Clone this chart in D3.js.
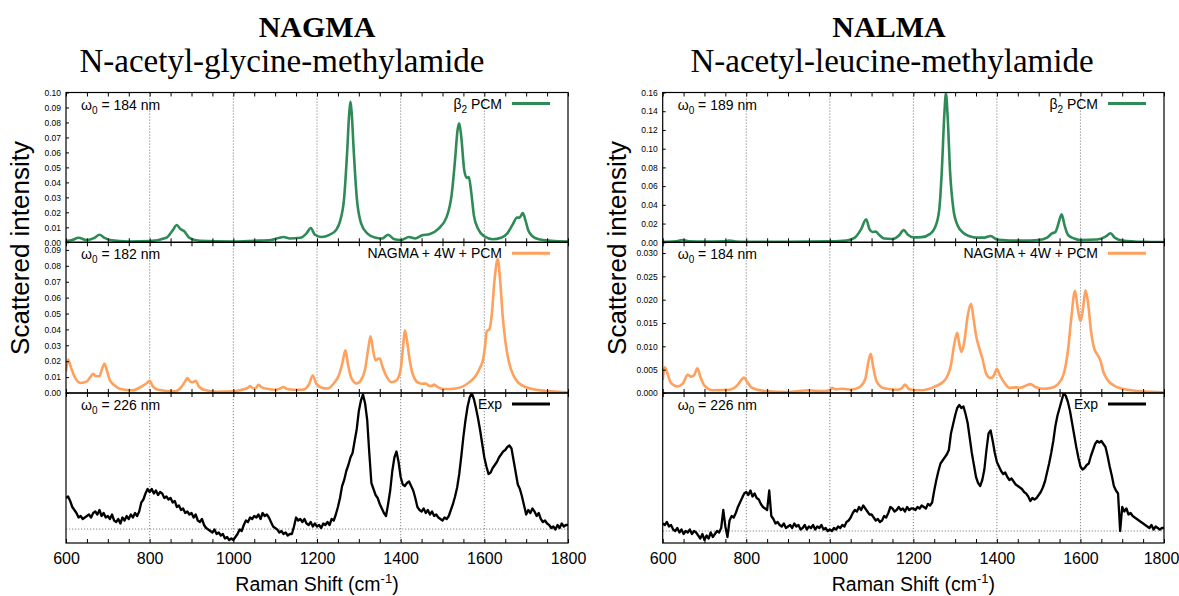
<!DOCTYPE html>
<html>
<head>
<meta charset="utf-8">
<script src="https://cdn.jsdelivr.net/npm/d3@7"></script>
<style>
  body { margin: 0; background: #fff; }
  text { font-family: "Liberation Sans", Arial, sans-serif; fill: #000; }
  .serif { font-family: "Liberation Serif", "DejaVu Serif", serif; }
</style>
</head>
<body>
<script>
// ---- data ----
const titles = ['NAGMA', 'NALMA'];
const subtitles = ['N-acetyl-glycine-methylamide', 'N-acetyl-leucine-methylamide'];
const legendNames = ['β2 PCM', 'NAGMA + 4W + PCM', 'Exp'];
const lambdas = [['184', '182', '226'], ['189', '184', '226']];
const xTicks = [600, 800, 1000, 1200, 1400, 1600, 1800];

// NAGMA, beta2 PCM (scattered intensity)
const nagmaB2 = [[600,0.0008],[615,0.0015],[630,0.003],[650,0.0015],[668,0.003],[680,0.005],[692,0.003],[705,0.0015],[750,0.0005],[800,0.0008],[840,0.003],[855,0.008],[865,0.0115],[873,0.009],[882,0.0075],[895,0.003],[920,0.001],[1000,0.0005],[1050,0.001],[1090,0.0015],[1110,0.003],[1120,0.0035],[1135,0.0025],[1160,0.003],[1175,0.006],[1185,0.0095],[1195,0.005],[1210,0.0035],[1230,0.005],[1245,0.008],[1255,0.014],[1265,0.03],[1272,0.06],[1277,0.086],[1280,0.094],[1283,0.086],[1288,0.06],[1295,0.03],[1305,0.013],[1320,0.006],[1340,0.003],[1355,0.0025],[1370,0.005],[1385,0.002],[1400,0.0015],[1420,0.0035],[1435,0.0025],[1450,0.0045],[1470,0.0055],[1490,0.009],[1510,0.017],[1522,0.032],[1530,0.055],[1536,0.075],[1540,0.0795],[1545,0.07],[1552,0.048],[1558,0.043],[1563,0.0435],[1568,0.035],[1575,0.018],[1585,0.009],[1600,0.004],[1620,0.002],[1640,0.003],[1655,0.006],[1668,0.012],[1678,0.0165],[1684,0.0165],[1692,0.0195],[1698,0.015],[1705,0.008],[1715,0.004],[1730,0.002],[1760,0.001],[1800,0.0005]];

// NAGMA + 4W + PCM
const nagmaW4 = [[600,0.0136],[605,0.021],[612,0.016],[620,0.0105],[635,0.0063],[650,0.0073],[658,0.01],[665,0.012],[672,0.0105],[680,0.0105],[686,0.015],[692,0.0184],[698,0.014],[705,0.008],[715,0.005],[730,0.0025],[760,0.0017],[780,0.004],[792,0.006],[800,0.0077],[808,0.004],[820,0.002],[860,0.001],[875,0.0035],[884,0.007],[890,0.0094],[897,0.0072],[903,0.0068],[910,0.0077],[918,0.004],[930,0.002],[960,0.0008],[1000,0.001],[1020,0.002],[1033,0.003],[1040,0.0042],[1048,0.0028],[1055,0.0035],[1060,0.0052],[1068,0.0035],[1080,0.0027],[1100,0.002],[1113,0.003],[1120,0.0038],[1128,0.0025],[1145,0.002],[1165,0.002],[1180,0.005],[1190,0.011],[1198,0.006],[1210,0.0035],[1225,0.0028],[1240,0.006],[1252,0.011],[1260,0.018],[1268,0.0268],[1274,0.018],[1282,0.0095],[1295,0.006],[1305,0.008],[1315,0.015],[1322,0.027],[1328,0.0356],[1334,0.027],[1340,0.0205],[1346,0.0215],[1350,0.0217],[1356,0.017],[1365,0.011],[1378,0.0068],[1390,0.008],[1400,0.015],[1406,0.03],[1410,0.0394],[1415,0.033],[1422,0.02],[1430,0.011],[1442,0.0065],[1452,0.0058],[1460,0.006],[1468,0.0045],[1475,0.0045],[1480,0.0053],[1488,0.0038],[1500,0.0025],[1520,0.0025],[1545,0.0037],[1565,0.007],[1580,0.011],[1590,0.016],[1597,0.021],[1602,0.03],[1606,0.039],[1612,0.04],[1618,0.05],[1624,0.07],[1632,0.0842],[1638,0.07],[1644,0.048],[1650,0.033],[1658,0.0205],[1668,0.012],[1680,0.0068],[1700,0.0036],[1730,0.0018],[1760,0.001],[1800,0.0003]];

// NALMA, beta2 PCM
const nalmaB2 = [[600,0.0005],[630,0.001],[648,0.0025],[665,0.001],[700,0.0008],[745,0.001],[760,0.0018],[775,0.0008],[800,0.0005],[900,0.0005],[1000,0.001],[1040,0.002],[1060,0.005],[1075,0.014],[1087,0.0246],[1095,0.014],[1102,0.011],[1110,0.0114],[1118,0.008],[1130,0.004],[1150,0.0035],[1165,0.007],[1177,0.013],[1187,0.008],[1200,0.0053],[1220,0.0055],[1240,0.009],[1252,0.016],[1262,0.035],[1268,0.075],[1274,0.135],[1278,0.159],[1282,0.135],[1288,0.075],[1296,0.035],[1306,0.018],[1320,0.01],[1335,0.0065],[1350,0.005],[1370,0.005],[1385,0.0068],[1400,0.003],[1430,0.002],[1460,0.0018],[1500,0.0025],[1520,0.005],[1532,0.0095],[1540,0.011],[1546,0.018],[1555,0.03],[1562,0.018],[1570,0.008],[1585,0.004],[1600,0.0025],[1640,0.003],[1660,0.006],[1672,0.0096],[1682,0.005],[1700,0.002],[1750,0.0005],[1800,0.0002]];

// NALMA + 4W + PCM
const nalmaW4 = [[600,0.0028],[605,0.0055],[612,0.004],[620,0.0021],[635,0.0014],[648,0.002],[660,0.0039],[668,0.0035],[675,0.0038],[683,0.0053],[690,0.0035],[700,0.0016],[720,0.0006],[760,0.0007],[780,0.0018],[790,0.003],[795,0.0033],[802,0.0024],[812,0.0012],[840,0.0005],[900,0.0002],[950,0.0006],[980,0.0004],[1000,0.0006],[1005,0.0011],[1015,0.0008],[1030,0.0009],[1050,0.0007],[1070,0.0012],[1085,0.003],[1092,0.0065],[1098,0.0084],[1104,0.0055],[1112,0.0025],[1130,0.001],[1160,0.0007],[1172,0.001],[1180,0.0018],[1190,0.0008],[1220,0.0006],[1250,0.0013],[1275,0.0027],[1290,0.006],[1298,0.0105],[1305,0.0129],[1310,0.0105],[1315,0.0088],[1322,0.011],[1330,0.0165],[1338,0.0191],[1344,0.016],[1350,0.0124],[1358,0.0095],[1365,0.0075],[1375,0.004],[1385,0.0032],[1393,0.0038],[1400,0.0052],[1407,0.0038],[1418,0.0022],[1430,0.0011],[1445,0.0012],[1455,0.0011],[1470,0.0016],[1480,0.0019],[1492,0.0013],[1510,0.0009],[1530,0.0011],[1545,0.0018],[1560,0.0041],[1570,0.009],[1578,0.016],[1587,0.0219],[1593,0.0185],[1600,0.0154],[1606,0.018],[1612,0.022],[1618,0.0195],[1625,0.0135],[1633,0.0095],[1640,0.0083],[1647,0.0072],[1655,0.0045],[1665,0.0028],[1680,0.0016],[1700,0.0009],[1740,0.0004],[1800,0.0001]];

// experimental spectra, sampled every 5 cm-1 from 600 to 1800 (arbitrary units)
const expShift = d3.range(600, 1801, 5);
const nagmaExp = [
  .30,.31,.28,.24,.22,.20,.17,.18,.16,.17,
  .18,.19,.17,.20,.21,.19,.22,.18,.20,.17,
  .18,.16,.19,.15,.14,.16,.13,.17,.15,.18,
  .16,.19,.17,.20,.18,.21,.27,.29,.33,.36,
  .34,.36,.33,.35,.32,.34,.33,.30,.31,.29,
  .30,.27,.28,.24,.25,.22,.23,.20,.21,.19,
  .20,.17,.19,.15,.14,.16,.12,.10,.09,.08,
  .07,.09,.06,.07,.05,.06,.03,.04,.02,.03,
  .02,.04,.06,.09,.08,.12,.15,.14,.17,.16,
  .18,.17,.19,.16,.20,.18,.19,.17,.14,.11,
  .10,.09,.07,.08,.06,.07,.05,.06,.06,.11,
  .17,.15,.16,.14,.16,.13,.12,.14,.11,.13,
  .11,.12,.10,.13,.12,.14,.12,.16,.15,.19,
  .24,.30,.38,.42,.48,.52,.57,.60,.68,.76,
  .88,.95,.99,.93,.82,.60,.40,.36,.32,.30,
  .26,.23,.20,.18,.26,.35,.48,.57,.61,.54,
  .44,.39,.38,.40,.41,.38,.35,.30,.24,.22,
  .21,.23,.20,.22,.19,.21,.18,.19,.17,.16,
  .15,.17,.16,.18,.22,.26,.31,.37,.46,.58,
  .71,.82,.91,.97,1.0,.96,.90,.83,.75,.66,
  .57,.51,.46,.47,.50,.52,.54,.57,.59,.61,
  .62,.64,.65,.63,.55,.47,.39,.36,.31,.25,
  .19,.22,.20,.23,.21,.18,.20,.16,.14,.15,
  .13,.12,.10,.11,.09,.12,.10,.13,.11,.12,
  .12];
const nalmaExp = [
  .13,.12,.14,.11,.12,.09,.08,.10,.07,.09,
  .06,.08,.07,.09,.06,.08,.07,.05,.03,.06,
  .02,.05,.03,.07,.04,.06,.08,.07,.10,.22,
  .11,.04,.15,.18,.17,.20,.24,.27,.30,.33,
  .34,.32,.35,.31,.33,.30,.29,.26,.24,.23,
  .22,.35,.18,.16,.13,.14,.12,.11,.13,.10,
  .11,.12,.10,.13,.11,.12,.09,.10,.12,.09,
  .11,.10,.12,.09,.11,.10,.12,.09,.10,.08,
  .09,.08,.10,.09,.11,.10,.12,.11,.14,.15,
  .17,.20,.22,.21,.24,.22,.25,.23,.21,.19,
  .19,.17,.15,.16,.14,.15,.18,.17,.20,.24,
  .23,.21,.22,.24,.22,.23,.21,.24,.22,.23,
  .23,.22,.24,.23,.25,.24,.23,.26,.25,.27,
  .35,.42,.48,.53,.55,.57,.59,.62,.73,.79,
  .85,.90,.92,.90,.91,.86,.80,.70,.60,.52,
  .44,.40,.38,.42,.49,.62,.73,.75,.68,.60,
  .54,.51,.48,.46,.47,.44,.42,.43,.41,.39,
  .38,.37,.36,.34,.33,.31,.28,.30,.29,.30,
  .32,.34,.37,.41,.47,.53,.60,.68,.78,.85,
  .90,.95,1.0,.98,.94,.88,.80,.72,.64,.57,
  .51,.49,.50,.52,.53,.58,.62,.66,.68,.67,
  .68,.66,.64,.58,.51,.45,.38,.35,.33,.08,
  .24,.21,.23,.19,.20,.18,.17,.16,.15,.14,
  .13,.12,.11,.10,.12,.09,.11,.10,.09,.10,
  .10];
const expBaseline = [0.093, 0.08];

// y ticks for the computed panels
const nagmaTopTicks = d3.range(0, 0.1001, 0.01);
const nagmaMidTicks = d3.range(0, 0.0901, 0.01);
const nalmaTopTicks = d3.range(0, 0.1601, 0.02);
const nalmaMidTicks = d3.range(0, 0.0301, 0.005);

// ---- layout ----
const width = 1179, height = 596;
const panelEdges = [92.5, 242.3, 393, 543];
const green = '#2e8b57', orange = '#ffa05c';

const columns = [
  { left: 66, right: 568, titleX: 317, subX: 282, title: titles[0], sub: subtitles[0], lam: lambdas[0], base: expBaseline[0],
    panels: [
      { data: nagmaB2, color: green, domain: [0, 0.1], ticks: nagmaTopTicks, fmt: '.2f' },
      { data: nagmaW4, color: orange, domain: [0, 0.0948], ticks: nagmaMidTicks, fmt: '.2f' },
      { data: expShift.map((s, i) => [s, nagmaExp[i]]), color: '#000', domain: [0, 1.0], ticks: [], exp: true }
    ] },
  { left: 662.7, right: 1164, titleX: 889, subX: 892, title: titles[1], sub: subtitles[1], lam: lambdas[1], base: expBaseline[1],
    panels: [
      { data: nalmaB2, color: green, domain: [0, 0.16], ticks: nalmaTopTicks, fmt: '.2f' },
      { data: nalmaW4, color: orange, domain: [0, 0.0323], ticks: nalmaMidTicks, fmt: '.3f' },
      { data: expShift.map((s, i) => [s, nalmaExp[i]]), color: '#000', domain: [0, 1.0], ticks: [], exp: true }
    ] }
];

const svg = d3.select('body').append('svg')
  .attr('width', width)
  .attr('height', height);

columns.forEach((col, ci) => {
  const x = d3.scaleLinear().domain([600, 1800]).range([col.left, col.right]);
  const cx = (col.left + col.right) / 2;
  const g = svg.append('g');

  g.append('text').attr('class', 'serif')
    .attr('x', col.titleX).attr('y', 37)
    .attr('text-anchor', 'middle')
    .style('font-size', '30px').style('font-weight', 'bold')
    .text(col.title);
  g.append('text').attr('class', 'serif')
    .attr('x', col.subX).attr('y', 72)
    .attr('text-anchor', 'middle')
    .style('font-size', '33px')
    .text(col.sub);

  g.append('text')
    .attr('transform', 'translate(' + (col.left - 37) + ',248) rotate(-90)')
    .attr('text-anchor', 'middle')
    .style('font-size', '26px')
    .text('Scattered intensity');

  const xl = g.append('text')
    .attr('x', cx).attr('y', 591)
    .attr('text-anchor', 'middle')
    .style('font-size', '19.5px')
    .text('Raman Shift (cm');
  xl.append('tspan').attr('dy', -8).style('font-size', '13px').text('-1');
  xl.append('tspan').attr('dy', 8).text(')');

  col.panels.forEach((p, pi) => {
    const yBot = panelEdges[pi + 1], yTop = panelEdges[pi];
    const y = d3.scaleLinear().domain(p.domain).range([yBot, yTop]);
    const clipId = 'clip' + ci + pi;

    svg.append('clipPath').attr('id', clipId)
      .append('rect')
      .attr('x', col.left).attr('y', yTop)
      .attr('width', col.right - col.left).attr('height', yBot - yTop);

    // dotted guide lines
    g.selectAll(null)
      .data([800, 1000, 1200, 1400, 1600])
      .enter().append('line')
      .attr('x1', d => x(d)).attr('x2', d => x(d))
      .attr('y1', yTop).attr('y2', yBot)
      .attr('stroke', '#666').attr('stroke-width', 0.8)
      .attr('stroke-dasharray', '1.2,1.8');

    if (p.exp) {
      g.append('line')
        .attr('x1', col.left).attr('x2', col.right)
        .attr('y1', y(col.base)).attr('y2', y(col.base))
        .attr('stroke', '#666').attr('stroke-width', 0.8)
        .attr('stroke-dasharray', '1.2,1.8');
    }

    const line = d3.line()
      .x(d => x(d[0]))
      .y(d => y(d[1]))
      .curve(p.exp ? d3.curveLinear : d3.curveMonotoneX);

    g.append('path')
      .datum(p.data)
      .attr('clip-path', 'url(#' + clipId + ')')
      .attr('fill', 'none')
      .attr('stroke', p.color)
      .attr('stroke-width', p.exp ? 2.3 : 2.6)
      .attr('stroke-linejoin', 'round')
      .attr('d', line);

    // x ticks, inward, top and bottom
    g.append('g')
      .attr('transform', 'translate(0,' + yBot + ')')
      .call(d3.axisBottom(x).tickValues(d3.range(600, 1801, 50)).tickSize(-4).tickFormat(''))
      .call(a => a.select('.domain').remove());
    g.append('g')
      .attr('transform', 'translate(0,' + yTop + ')')
      .call(d3.axisTop(x).tickValues(d3.range(600, 1801, 50)).tickSize(-4).tickFormat(''))
      .call(a => a.select('.domain').remove());

    if (p.ticks.length) {
      g.append('g')
        .attr('transform', 'translate(' + col.left + ',0)')
        .call(d3.axisLeft(y).tickValues(p.ticks).tickSize(-3).tickPadding(5).tickFormat(d3.format(p.fmt)))
        .call(a => a.select('.domain').remove())
        .call(a => a.selectAll('text').style('font-size', '8.5px').style('font-family', '"Liberation Sans", Arial, sans-serif'));
    }

    // frame
    g.append('rect')
      .attr('x', col.left).attr('y', yTop)
      .attr('width', col.right - col.left).attr('height', yBot - yTop)
      .attr('fill', 'none').attr('stroke', '#000').attr('stroke-width', 1.2);

    // omega label
    const lab = g.append('text')
      .attr('x', col.left + 15).attr('y', yTop + 17)
      .style('font-size', '14px')
      .text('ω');
    lab.append('tspan').attr('dy', 4).style('font-size', '10px').text('0');
    lab.append('tspan').attr('dy', -4).text(' = ' + col.lam[pi] + ' nm');

    // legend
    const ly = yTop + 11;
    const lx = col.right - 56;
    const lt = g.append('text')
      .attr('x', lx - 10).attr('y', ly + 5)
      .attr('text-anchor', 'end')
      .style('font-size', '14px');
    if (pi === 0) {
      lt.text('β');
      lt.append('tspan').attr('dy', 4).style('font-size', '10px').text('2');
      lt.append('tspan').attr('dy', -4).text(' PCM');
    } else {
      lt.text(legendNames[pi]);
    }
    g.append('line')
      .attr('x1', lx).attr('x2', lx + 38)
      .attr('y1', ly).attr('y2', ly)
      .attr('stroke', p.color).attr('stroke-width', 3);
  });

  // x tick labels under the bottom panel
  g.append('g')
    .attr('transform', 'translate(0,' + panelEdges[3] + ')')
    .call(d3.axisBottom(x).tickValues(xTicks).tickSize(0).tickPadding(10).tickFormat(d3.format('d')))
    .call(a => a.select('.domain').remove())
    .call(a => a.selectAll('text')
      .style('font-size', '16px')
      .style('font-family', '"Liberation Sans", Arial, sans-serif')
      .attr('dx', d => (ci === 1 && d === 1800) ? -3 : 0));
});
</script>
</body>
</html>
